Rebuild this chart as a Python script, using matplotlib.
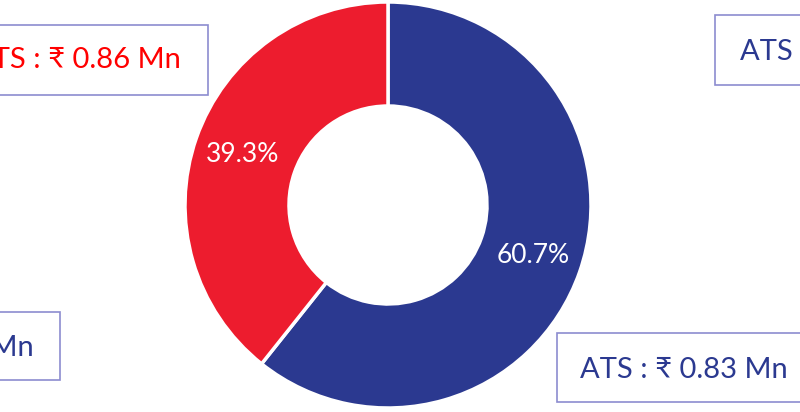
import matplotlib.pyplot as plt
from matplotlib.patches import Rectangle

# Share of the two segments (%)
segments = ['Blue segment', 'Red segment']
shares = [60.7, 39.3]
colors = ['#2B3990', '#ED1C2E']

# ATS callouts shown in the boxes
box_labels = ['ATS : ₹ 0.86 Mn', 'ATS : ₹ 0.85 Mn', 'ATS : ₹ 0.84 Mn', 'ATS : ₹ 0.83 Mn']
box_colors = ['#FF0000', '#2B3990', '#2B3990', '#2B3990']

plt.rcParams['font.family'] = ['Lato', 'DejaVu Sans']

fig = plt.figure(figsize=(8, 4.12), dpi=100)
ax = fig.add_axes([0, 0, 1, 1])

# Donut chart
ax.pie(shares, colors=colors, startangle=90, counterclock=False,
       radius=203, center=(388, 207),
       wedgeprops=dict(width=104, edgecolor='white', linewidth=2.5),
       autopct='%1.1f%%', pctdistance=0.76,
       textprops=dict(color='white', fontsize=19))

# Callout boxes (x, y, width, height) and text anchors
boxes = [(-10, 317, 218, 70), (715, 327, 100, 70), (-10, 32, 70, 68), (557, 10, 260, 69)]
anchors = [(181, 352, 'right'), (740, 360, 'left'), (34, 64, 'right'), (580, 42, 'left')]

for (bx, by, bw, bh), (tx, ty, ha), label, c in zip(boxes, anchors, box_labels, box_colors):
    ax.add_patch(Rectangle((bx, by), bw, bh, facecolor='white',
                           edgecolor='#8C8CCF', linewidth=1.2))
    ax.text(tx, ty, label, color=c, fontsize=21, ha=ha, va='center')

ax.set_xlim(0, 800)
ax.set_ylim(0, 412)
ax.axis('off')

plt.savefig('out.png', dpi=100)
